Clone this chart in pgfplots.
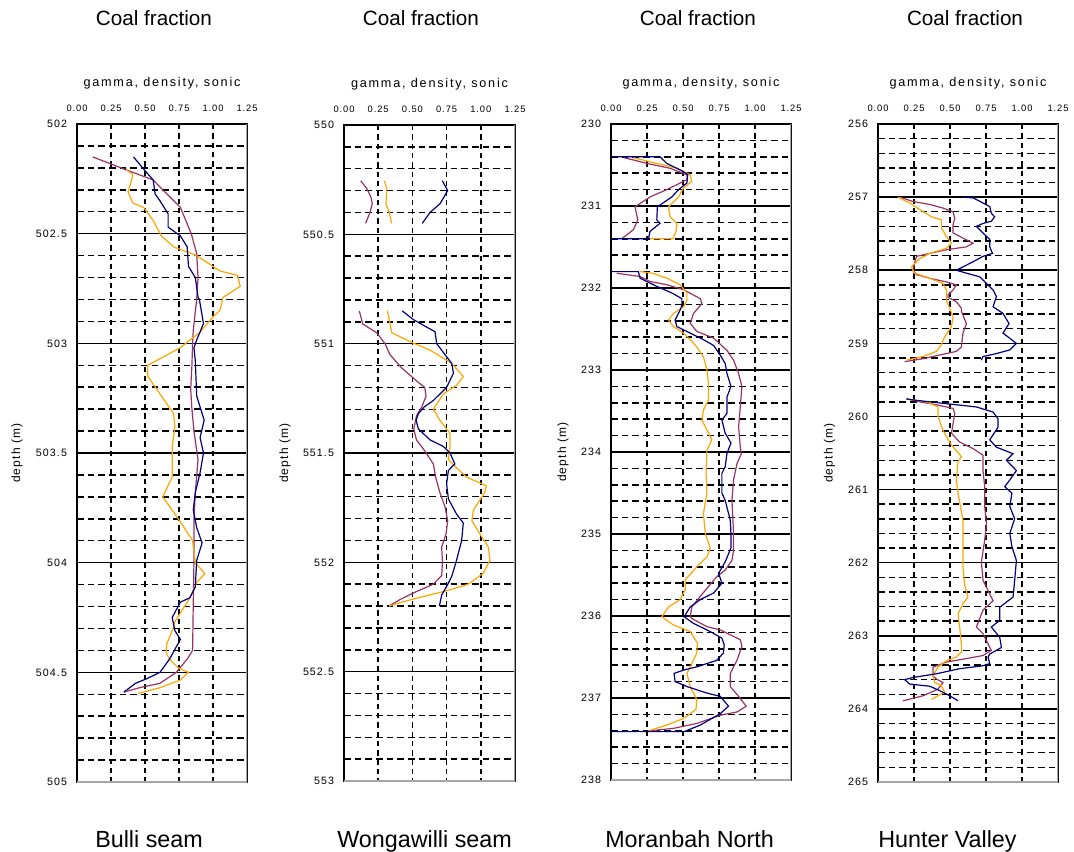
\documentclass[border=0pt]{standalone}
\usepackage{pgfplots}
\pgfplotsset{compat=1.18}
\usepackage{fontspec}
\setmainfont{Liberation Sans}
\newfontfamily\spaced[LetterSpace=10]{Liberation Sans}
\newfontfamily\wspaced[LetterSpace=14]{Liberation Sans}
\definecolor{cpurple}{HTML}{993366}
\definecolor{cnavy}{HTML}{000080}
\definecolor{corange}{HTML}{FFA500}
\tikzset{frameedge/.style={gray!70, line width=1.2pt}}
\pgfplotsset{
  coalax/.style={
    scale only axis,
    xmin=0, xmax=1.25,
    y dir=reverse,
    xtick={0,0.25,0.5,0.75,1,1.25},
    xticklabel pos=right,
    /pgf/number format/assume math mode=true,
    x tick label style={/pgf/number format/fixed,/pgf/number format/fixed zerofill,/pgf/number format/precision=2,
      font=\spaced\fontsize{7}{8}\selectfont, yshift=6pt},
    y tick label style={font=\spaced\fontsize{8}{9}\selectfont, xshift=-4pt},
    major tick length=0pt, minor tick length=0pt,
    xmajorgrids, ymajorgrids, yminorgrids,
    minor y tick num=4,
    major x grid style={black, line width=1.1pt, dash pattern=on 4pt off 3pt},
    major y grid style={black, line width=1.1pt},
    minor y grid style={black, line width=1.1pt, dash pattern=on 5pt off 3pt},
    axis line style={black, line width=1.5pt},
    xlabel={gamma, density, sonic},
    xlabel style={at={(rel axis cs:0.5,1)}, anchor=center, yshift=30.5pt, font=\wspaced\fontsize{9.5}{11}\selectfont},
    ylabel={depth (m)},
    every axis plot/.append style={line width=0.9pt},
  },
}
\begin{document}
\begin{tikzpicture}
\useasboundingbox (0,0) rectangle (805.5pt,639pt);
% ---------------- Panel 1: Bulli seam
\begin{axis}[coalax, at={(57.75pt,52.5pt)}, anchor=south west, width=127.5pt, height=493.5pt,
  ymin=502, ymax=505, ytick={502,502.5,...,505},
  ylabel style={at={(rel axis cs:-0.353,0.5)}, anchor=center, font=\spaced\fontsize{9}{10}\selectfont}]
\addplot[cpurple] coordinates {(0.115,502.15)(0.365,502.21)(0.56,502.255)(0.63,502.30)(0.76,502.38)(0.84,502.50)(0.88,502.59)(0.89,502.70)(0.88,502.80)(0.855,502.94)(0.85,503.0)(0.845,503.1)(0.836,503.21)(0.845,503.3)(0.86,503.4)(0.89,503.53)(0.87,503.68)(0.86,503.8)(0.86,504.0)(0.855,504.18)(0.85,504.40)(0.81,504.44)(0.73,504.50)(0.61,504.55)(0.46,504.57)(0.345,504.59)};
\addplot[corange] coordinates {(0.365,502.21)(0.41,502.23)(0.40,502.26)(0.375,502.31)(0.41,502.36)(0.49,502.38)(0.56,502.44)(0.62,502.51)(0.71,502.56)(0.88,502.60)(1.05,502.67)(1.18,502.69)(1.20,502.74)(1.075,502.79)(1.05,502.85)(1.00,502.88)(0.93,502.93)(0.905,502.95)(0.83,502.985)(0.76,503.02)(0.52,503.10)(0.52,503.15)(0.71,503.32)(0.72,503.38)(0.70,503.47)(0.70,503.61)(0.63,503.70)(0.745,503.80)(0.85,503.90)(0.87,504.0)(0.94,504.05)(0.88,504.09)(0.83,504.16)(0.72,504.27)(0.70,504.31)(0.66,504.37)(0.655,504.41)(0.68,504.44)(0.745,504.48)(0.82,504.50)(0.76,504.535)(0.61,504.57)(0.49,504.59)(0.45,504.595)};
\addplot[cnavy] coordinates {(0.415,502.15)(0.51,502.22)(0.56,502.255)(0.575,502.32)(0.61,502.35)(0.67,502.41)(0.67,502.47)(0.76,502.51)(0.81,502.56)(0.82,502.65)(0.87,502.70)(0.89,502.79)(0.90,502.80)(0.93,502.91)(0.88,502.985)(0.86,503.02)(0.87,503.08)(0.88,503.24)(0.935,503.35)(0.905,503.43)(0.93,503.50)(0.905,503.59)(0.87,503.68)(0.855,503.76)(0.88,503.84)(0.92,503.91)(0.88,503.99)(0.87,504.11)(0.83,504.16)(0.76,504.18)(0.70,504.25)(0.72,504.31)(0.76,504.35)(0.68,504.44)(0.61,504.50)(0.51,504.53)(0.43,504.55)(0.345,504.59)};
\draw[frameedge] (rel axis cs:1,1) -- (rel axis cs:1,0) -- (rel axis cs:0,0);
\end{axis}
% ---------------- Panel 2: Wongawilli seam
\begin{axis}[coalax, at={(258pt,53.25pt)}, anchor=south west, width=128.25pt, height=492pt,
  ymin=550, ymax=553, ytick={550,550.5,...,553},
  ylabel style={at={(rel axis cs:-0.345,0.5)}, anchor=center, font=\spaced\fontsize{9}{10}\selectfont}]
\addplot[cpurple] coordinates {(0.122,550.255)(0.166,550.29)(0.197,550.33)(0.207,550.36)(0.19,550.40)(0.158,550.45)};
\addplot[corange] coordinates {(0.295,550.255)(0.312,550.29)(0.307,550.36)(0.33,550.40)(0.349,550.45)};
\addplot[cnavy] coordinates {(0.719,550.255)(0.758,550.30)(0.702,550.36)(0.629,550.40)(0.572,550.45)};
\addplot[cpurple] coordinates {(0.112,550.85)(0.137,550.91)(0.239,550.95)(0.30,551.0)(0.336,551.05)(0.42,551.11)(0.53,551.17)(0.59,551.20)(0.60,551.24)(0.568,551.29)(0.53,551.33)(0.51,551.39)(0.53,551.44)(0.59,551.49)(0.653,551.55)(0.67,551.61)(0.70,551.68)(0.738,551.745)(0.758,551.81)(0.746,551.87)(0.714,551.93)(0.72,552.0)(0.714,552.06)(0.653,552.10)(0.507,552.14)(0.41,552.17)(0.33,552.20)};
\addplot[corange] coordinates {(0.317,550.85)(0.337,550.91)(0.349,550.95)(0.48,550.99)(0.63,551.03)(0.787,551.09)(0.872,551.15)(0.823,551.19)(0.726,551.23)(0.653,551.30)(0.70,551.35)(0.775,551.41)(0.775,551.47)(0.763,551.53)(0.81,551.56)(0.895,551.61)(1.04,551.65)(1.03,551.68)(0.946,551.76)(0.935,551.81)(0.994,551.87)(1.055,551.93)(1.067,551.99)(1.018,552.05)(0.909,552.10)(0.75,552.13)(0.556,552.16)(0.434,552.18)(0.33,552.20)};
\addplot[cnavy] coordinates {(0.426,550.85)(0.507,550.89)(0.592,550.92)(0.665,550.945)(0.678,551.0)(0.726,551.04)(0.787,551.09)(0.80,551.135)(0.75,551.20)(0.653,551.26)(0.585,551.29)(0.544,551.32)(0.527,551.35)(0.544,551.39)(0.629,551.44)(0.726,551.47)(0.775,551.50)(0.81,551.55)(0.763,551.58)(0.75,551.64)(0.763,551.71)(0.823,551.78)(0.872,551.82)(0.86,551.90)(0.823,551.99)(0.787,552.065)(0.75,552.11)(0.714,552.15)(0.697,552.20)};
\draw[frameedge] (rel axis cs:1,1) -- (rel axis cs:1,0) -- (rel axis cs:0,0);
\end{axis}
% ---------------- Panel 3: Moranbah North
\begin{axis}[coalax, at={(458.25pt,54pt)}, anchor=south west, width=135pt, height=492pt,
  ymin=230, ymax=238, ytick={230,231,...,238},
  ylabel style={at={(rel axis cs:-0.267,0.5)}, anchor=center, font=\spaced\fontsize{9}{10}\selectfont}]
\addplot[cpurple] coordinates {(0.09,230.41)(0.248,230.48)(0.41,230.54)(0.527,230.62)(0.527,230.68)(0.387,230.80)(0.271,230.89)(0.167,231.01)(0.186,231.17)(0.155,231.29)(0.074,231.40)};
\addplot[corange] coordinates {(0.155,230.41)(0.271,230.46)(0.457,230.54)(0.55,230.62)(0.561,230.70)(0.503,230.78)(0.469,230.89)(0.399,231.01)(0.41,231.13)(0.457,231.21)(0.452,231.31)(0.429,231.40)(0.271,231.40)};
\addplot[cnavy] coordinates {(0,230.40)(0.341,230.40)(0.387,230.48)(0.503,230.58)(0.533,230.62)(0.527,230.72)(0.469,230.80)(0.422,230.89)(0.322,231.01)(0.318,231.17)(0.341,231.21)(0.271,231.31)(0.26,231.40)(0,231.40)};
\addplot[cpurple] coordinates {(0.04,231.82)(0.202,231.86)(0.271,231.92)(0.387,231.96)(0.503,232.02)(0.62,232.13)(0.631,232.19)(0.573,232.31)(0.55,232.43)(0.596,232.53)(0.712,232.61)(0.805,232.76)(0.851,232.88)(0.886,233.04)(0.909,233.20)(0.898,233.45)(0.886,233.69)(0.898,233.94)(0.905,234.02)(0.875,234.14)(0.851,234.34)(0.84,234.59)(0.851,234.99)(0.851,235.20)(0.84,235.32)(0.793,235.44)(0.735,235.52)(0.677,235.64)(0.62,235.76)(0.561,235.89)(0.55,236.01)(0.561,236.03)(0.666,236.13)(0.759,236.17)(0.898,236.29)(0.909,236.37)(0.875,236.54)(0.828,236.70)(0.828,236.86)(0.886,236.98)(0.939,237.10)(0.875,237.17)(0.759,237.21)(0.596,237.31)(0.434,237.37)(0.271,237.40)};
\addplot[corange] coordinates {(0.202,231.80)(0.29,231.82)(0.387,231.88)(0.48,231.96)(0.527,232.06)(0.527,232.15)(0.503,232.23)(0.434,232.31)(0.399,232.39)(0.434,232.47)(0.503,232.55)(0.561,232.65)(0.596,232.72)(0.642,232.84)(0.666,233.0)(0.677,233.16)(0.677,233.36)(0.642,233.49)(0.631,233.61)(0.666,233.73)(0.70,233.85)(0.666,233.98)(0.66,234.26)(0.666,234.50)(0.642,234.75)(0.654,234.99)(0.689,235.17)(0.666,235.28)(0.596,235.40)(0.515,235.56)(0.515,235.68)(0.48,235.80)(0.399,235.89)(0.353,236.01)(0.434,236.11)(0.55,236.19)(0.60,236.33)(0.596,236.45)(0.55,236.62)(0.527,236.70)(0.55,236.86)(0.596,237.02)(0.59,237.14)(0.503,237.25)(0.387,237.33)(0.26,237.40)};
\addplot[cnavy] coordinates {(0,231.80)(0.19,231.80)(0.202,231.88)(0.248,231.92)(0.318,231.98)(0.422,232.06)(0.492,232.13)(0.492,232.21)(0.48,232.27)(0.445,232.39)(0.457,232.47)(0.55,232.55)(0.642,232.63)(0.712,232.70)(0.759,232.82)(0.793,232.92)(0.805,233.04)(0.833,233.20)(0.805,233.33)(0.805,233.53)(0.77,233.61)(0.793,233.77)(0.833,233.89)(0.805,234.02)(0.793,234.18)(0.77,234.26)(0.77,234.50)(0.793,234.59)(0.828,234.83)(0.833,234.99)(0.833,235.17)(0.793,235.34)(0.747,235.48)(0.77,235.60)(0.712,235.72)(0.62,235.80)(0.55,235.89)(0.508,236.01)(0.573,236.09)(0.689,236.19)(0.77,236.27)(0.786,236.35)(0.781,236.45)(0.735,236.54)(0.596,236.62)(0.503,236.66)(0.438,236.70)(0.445,236.80)(0.527,236.86)(0.666,236.94)(0.759,236.98)(0.816,237.10)(0.759,237.19)(0.70,237.25)(0.62,237.33)(0.508,237.41)(0,237.41)};
\draw[frameedge] (rel axis cs:1,1) -- (rel axis cs:1,0) -- (rel axis cs:0,0);
\end{axis}
% ---------------- Panel 4: Hunter Valley
\begin{axis}[coalax, at={(658.5pt,52.5pt)}, anchor=south west, width=135pt, height=493.5pt,
  ymin=256, ymax=265, ytick={256,257,...,265},
  ylabel style={at={(rel axis cs:-0.27,0.5)}, anchor=center, font=\spaced\fontsize{9}{10}\selectfont}]
\addplot[cpurple] coordinates {(0.151,257.0)(0.243,257.06)(0.359,257.10)(0.451,257.15)(0.521,257.20)(0.533,257.29)(0.521,257.38)(0.521,257.49)(0.59,257.56)(0.66,257.63)(0.614,257.68)(0.475,257.72)(0.359,257.77)(0.267,257.81)(0.255,257.90)(0.243,258.0)(0.267,258.06)(0.359,258.11)(0.475,258.16)(0.544,258.20)(0.521,258.27)(0.486,258.34)(0.486,258.37)(0.544,258.43)(0.579,258.52)(0.579,258.56)(0.614,258.73)(0.59,258.86)(0.579,259.05)(0.544,259.11)(0.428,259.16)(0.313,259.21)(0.185,259.25)};
\addplot[corange] coordinates {(0.139,257.0)(0.22,257.08)(0.29,257.17)(0.371,257.27)(0.44,257.31)(0.44,257.42)(0.475,257.54)(0.51,257.63)(0.475,257.70)(0.359,257.77)(0.29,257.84)(0.243,257.93)(0.232,257.96)(0.255,258.04)(0.359,258.11)(0.451,258.18)(0.475,258.27)(0.475,258.41)(0.498,258.52)(0.521,258.64)(0.51,258.77)(0.463,258.91)(0.44,259.02)(0.405,259.11)(0.313,259.18)(0.243,259.21)(0.197,259.23)};
\addplot[cnavy] coordinates {(0.586,257.0)(0.66,257.01)(0.729,257.08)(0.776,257.13)(0.787,257.22)(0.81,257.27)(0.787,257.33)(0.729,257.36)(0.683,257.40)(0.729,257.49)(0.776,257.58)(0.776,257.68)(0.795,257.77)(0.729,257.81)(0.683,257.86)(0.614,257.93)(0.544,258.0)(0.614,258.04)(0.706,258.09)(0.753,258.18)(0.799,258.27)(0.822,258.36)(0.799,258.50)(0.868,258.59)(0.91,258.73)(0.868,258.86)(0.961,259.0)(0.915,259.09)(0.822,259.14)(0.729,259.18)(0.718,259.23)};
\addplot[cpurple] coordinates {(0.197,259.76)(0.29,259.80)(0.405,259.84)(0.521,259.89)(0.533,259.96)(0.521,260.10)(0.51,260.23)(0.567,260.35)(0.66,260.44)(0.729,260.53)(0.729,260.74)(0.741,260.96)(0.741,261.23)(0.753,261.47)(0.741,261.69)(0.718,261.99)(0.729,262.24)(0.764,262.38)(0.799,262.52)(0.729,262.65)(0.683,262.88)(0.729,262.97)(0.764,263.11)(0.787,263.20)(0.729,263.27)(0.59,263.32)(0.475,263.36)(0.382,263.43)(0.382,263.55)(0.405,263.59)(0.451,263.64)(0.417,263.73)(0.313,263.82)(0.174,263.89)};
\addplot[corange] coordinates {(0.197,259.76)(0.336,259.80)(0.417,259.87)(0.417,260.0)(0.451,260.19)(0.51,260.39)(0.579,260.55)(0.556,260.62)(0.544,260.87)(0.556,261.05)(0.59,261.42)(0.59,261.78)(0.59,262.05)(0.602,262.31)(0.625,262.47)(0.59,262.56)(0.556,262.70)(0.567,262.88)(0.579,263.11)(0.579,263.22)(0.544,263.29)(0.475,263.34)(0.417,263.43)(0.382,263.54)(0.394,263.64)(0.44,263.68)(0.463,263.77)(0.417,263.82)(0.371,263.87)};
\addplot[cnavy] coordinates {(0.197,259.76)(0.267,259.78)(0.451,259.82)(0.683,259.87)(0.799,259.94)(0.833,260.03)(0.833,260.15)(0.776,260.32)(0.822,260.42)(0.938,260.51)(0.892,260.60)(0.961,260.74)(0.915,260.87)(0.88,260.96)(0.93,261.05)(0.915,261.23)(0.949,261.40)(0.915,261.60)(0.93,261.78)(0.961,261.97)(0.949,262.24)(0.938,262.47)(0.845,262.61)(0.845,262.79)(0.787,262.88)(0.845,263.02)(0.857,263.16)(0.776,263.25)(0.764,263.29)(0.776,263.38)(0.729,263.41)(0.567,263.45)(0.405,263.52)(0.243,263.57)(0.185,263.60)(0.22,263.66)(0.359,263.69)(0.428,263.75)(0.498,263.82)(0.556,263.89)};
\draw[frameedge] (rel axis cs:1,1) -- (rel axis cs:1,0) -- (rel axis cs:0,0);
\end{axis}
% ---------------- titles
\foreach \xc in {115.5,315.75,523.5,723.75}
  \node[anchor=base, font=\fontsize{15.5}{17}\selectfont, inner sep=0pt] at (\xc pt,619.5pt) {Coal fraction};
\node[anchor=base west, font=\fontsize{17.5}{19}\selectfont, inner sep=0pt] at (71.25pt,3pt) {Bulli seam};
\node[anchor=base west, font=\fontsize{17.5}{19}\selectfont, inner sep=0pt] at (252.75pt,3pt) {Wongawilli seam};
\node[anchor=base west, font=\fontsize{17.5}{19}\selectfont, inner sep=0pt] at (453.75pt,3pt) {Moranbah North};
\node[anchor=base west, font=\fontsize{17.5}{19}\selectfont, inner sep=0pt] at (658.5pt,3pt) {Hunter Valley};
\end{tikzpicture}
\end{document}
